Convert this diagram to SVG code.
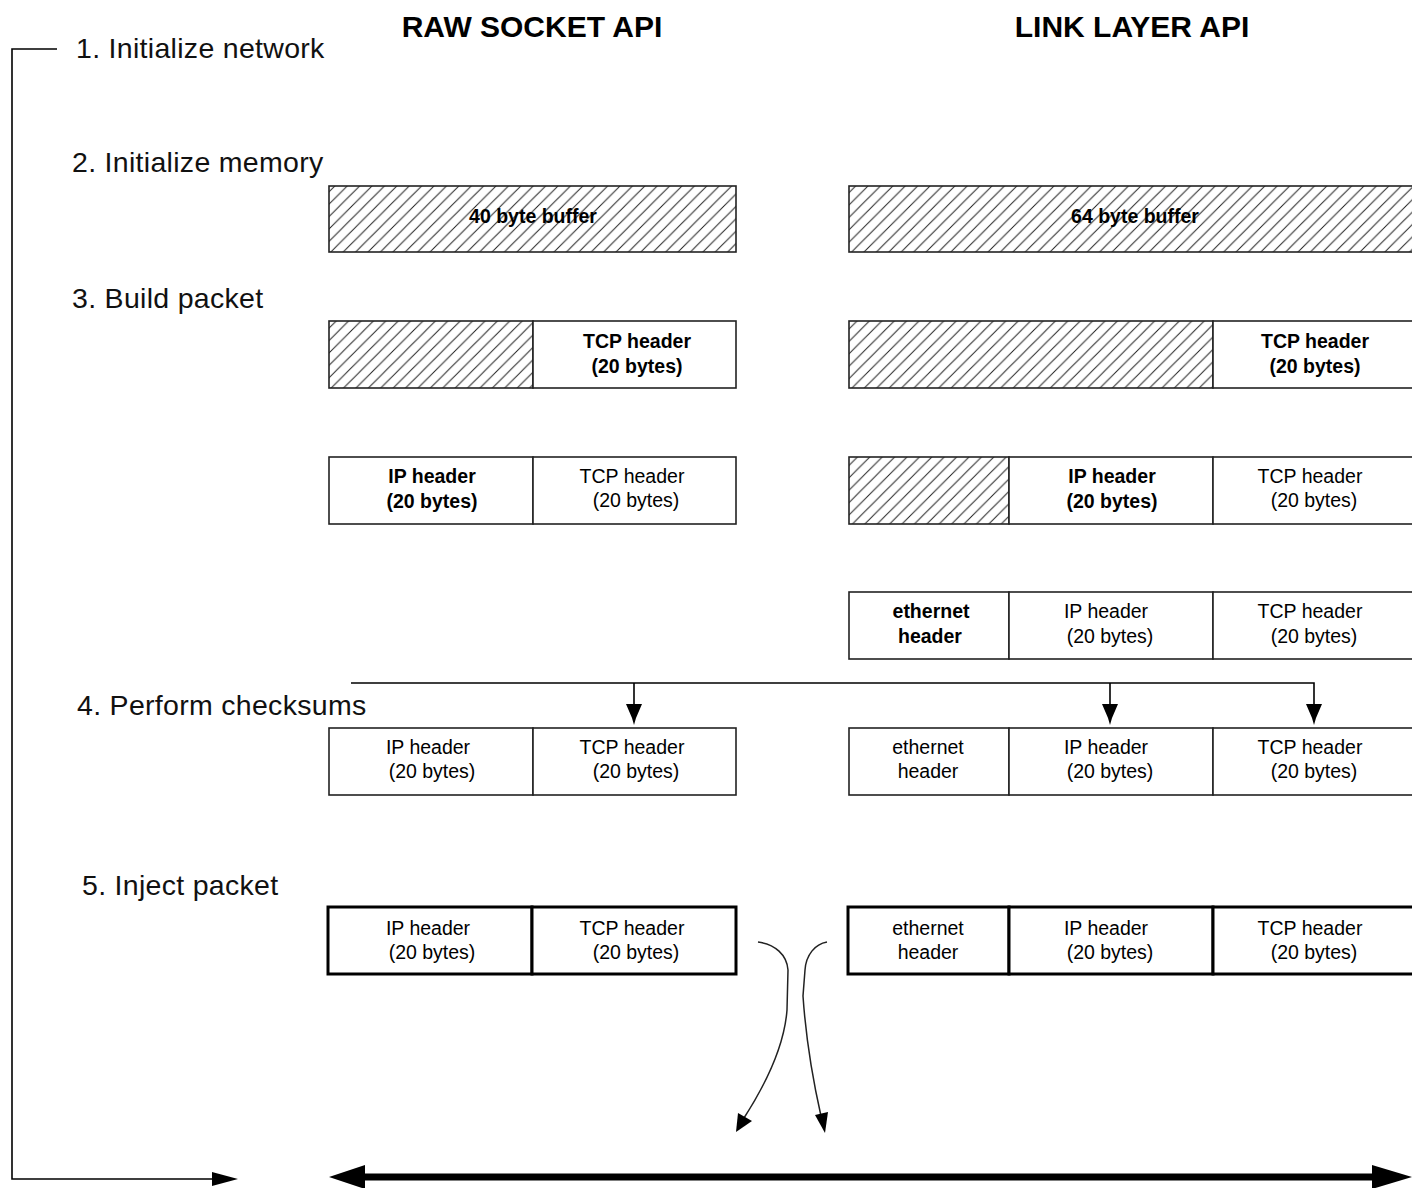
<svg xmlns="http://www.w3.org/2000/svg" width="1412" height="1188" viewBox="0 0 1412 1188">
  <style>
    .step { font-family: "Liberation Sans", Arial, sans-serif; font-size: 28.5px; letter-spacing: 0.3px; fill: #111; }
    .title { font-family: "Liberation Sans", Arial, sans-serif; font-size: 30px; font-weight: bold; fill: #000; text-anchor: middle; }
    .t { font-family: "Liberation Sans", Arial, sans-serif; font-size: 19.5px; fill: #000; text-anchor: middle; }
    .b { font-weight: bold; }
    .cell { fill: #fff; stroke: #222; stroke-width: 1.6; }
    .hcell { fill: url(#hatch); stroke: #222; stroke-width: 1.6; }
    .thick { fill: #fff; stroke: #000; stroke-width: 3; }
    .ln { fill: none; stroke: #000; stroke-width: 1.6; }
  </style>
  <defs>
    <pattern id="hatch" patternUnits="userSpaceOnUse" width="12.4" height="12.4">
      <rect width="12.4" height="12.4" fill="#fff"/>
      <path d="M-3,3 L3,-3 M0,12.4 L12.4,0 M9.4,15.4 L15.4,9.4" stroke="#222" stroke-width="1"/>
    </pattern>
  </defs>
  <rect width="1412" height="1188" fill="#fff"/>

  <!-- titles and step labels -->
  <g id="labels">
    <text class="title" x="532" y="37">RAW SOCKET API</text>
    <text class="title" x="1132" y="37">LINK LAYER API</text>
    <text class="step" x="76" y="58">1. Initialize network</text>
    <text class="step" x="72" y="172">2. Initialize memory</text>
    <text class="step" x="72" y="308">3. Build packet</text>
    <text class="step" x="77" y="715">4. Perform checksums</text>
    <text class="step" x="82" y="895">5. Inject packet</text>
  </g>

  <!-- step 2 -->
  <g id="raw-buffer">
    <rect class="hcell" x="329" y="186" width="407" height="66"/>
    <text class="t b" x="533" y="223">40 byte buffer</text>
  </g>
  <g id="link-buffer">
    <rect class="hcell" x="849" y="186" width="570" height="66"/>
    <text class="t b" x="1135" y="223">64 byte buffer</text>
  </g>

  <!-- step 3a -->
  <g id="raw-3a">
    <rect class="hcell" x="329" y="321" width="204" height="67"/>
    <rect class="cell" x="533" y="321" width="203" height="67"/>
    <text class="t b" x="637" y="348">TCP header</text>
    <text class="t b" x="637" y="373">(20 bytes)</text>
  </g>
  <g id="link-3a">
    <rect class="hcell" x="849" y="321" width="364" height="67"/>
    <rect class="cell" x="1213" y="321" width="210" height="67"/>
    <text class="t b" x="1315" y="348">TCP header</text>
    <text class="t b" x="1315" y="373">(20 bytes)</text>
  </g>

  <!-- step 3b -->
  <g id="raw-3b">
    <rect class="cell" x="329" y="457" width="204" height="67"/>
    <rect class="cell" x="533" y="457" width="203" height="67"/>
    <text class="t b" x="432" y="483">IP header</text>
    <text class="t b" x="432" y="508">(20 bytes)</text>
    <text class="t" x="632" y="483">TCP header</text>
    <text class="t" x="636" y="507">(20 bytes)</text>
  </g>
  <g id="link-3b">
    <rect class="hcell" x="849" y="457" width="160" height="67"/>
    <rect class="cell" x="1009" y="457" width="204" height="67"/>
    <rect class="cell" x="1213" y="457" width="210" height="67"/>
    <text class="t b" x="1112" y="483">IP header</text>
    <text class="t b" x="1112" y="508">(20 bytes)</text>
    <text class="t" x="1310" y="483">TCP header</text>
    <text class="t" x="1314" y="507">(20 bytes)</text>
  </g>

  <!-- step 3c -->
  <g id="link-3c">
    <rect class="cell" x="849" y="592" width="160" height="67"/>
    <rect class="cell" x="1009" y="592" width="204" height="67"/>
    <rect class="cell" x="1213" y="592" width="210" height="67"/>
    <text class="t b" x="931" y="618">ethernet</text>
    <text class="t b" x="930" y="643">header</text>
    <text class="t" x="1106" y="618">IP header</text>
    <text class="t" x="1110" y="643">(20 bytes)</text>
    <text class="t" x="1310" y="618">TCP header</text>
    <text class="t" x="1314" y="643">(20 bytes)</text>
  </g>

  <!-- step 4 -->
  <g id="raw-4">
    <rect class="cell" x="329" y="728" width="204" height="67"/>
    <rect class="cell" x="533" y="728" width="203" height="67"/>
    <text class="t" x="428" y="754">IP header</text>
    <text class="t" x="432" y="778">(20 bytes)</text>
    <text class="t" x="632" y="754">TCP header</text>
    <text class="t" x="636" y="778">(20 bytes)</text>
  </g>
  <g id="link-4">
    <rect class="cell" x="849" y="728" width="160" height="67"/>
    <rect class="cell" x="1009" y="728" width="204" height="67"/>
    <rect class="cell" x="1213" y="728" width="210" height="67"/>
    <text class="t" x="928" y="754">ethernet</text>
    <text class="t" x="928" y="778">header</text>
    <text class="t" x="1106" y="754">IP header</text>
    <text class="t" x="1110" y="778">(20 bytes)</text>
    <text class="t" x="1310" y="754">TCP header</text>
    <text class="t" x="1314" y="778">(20 bytes)</text>
  </g>

  <!-- step 5 -->
  <g id="raw-5">
    <rect class="thick" x="328" y="907" width="204" height="67"/>
    <rect class="thick" x="532" y="907" width="204" height="67"/>
    <text class="t" x="428" y="935">IP header</text>
    <text class="t" x="432" y="959">(20 bytes)</text>
    <text class="t" x="632" y="935">TCP header</text>
    <text class="t" x="636" y="959">(20 bytes)</text>
  </g>
  <g id="link-5">
    <rect class="thick" x="848" y="907" width="161" height="67"/>
    <rect class="thick" x="1009" y="907" width="204" height="67"/>
    <rect class="thick" x="1213" y="907" width="210" height="67"/>
    <text class="t" x="928" y="935">ethernet</text>
    <text class="t" x="928" y="959">header</text>
    <text class="t" x="1106" y="935">IP header</text>
    <text class="t" x="1110" y="959">(20 bytes)</text>
    <text class="t" x="1310" y="935">TCP header</text>
    <text class="t" x="1314" y="959">(20 bytes)</text>
  </g>

  <!-- connectors -->
  <g id="connectors">
    <!-- loop bracket -->
    <path class="ln" d="M57,49 H12 V1179 H216"/>
    <polygon points="212,1172 238,1179 212,1186" fill="#000"/>
    <!-- checksum arrows -->
    <path class="ln" d="M351,683 H1314 V706 M634,683 V706 M1110,683 V706"/>
    <polygon points="626,704 642,704 636,718 634,725 632,718" fill="#000"/>
    <polygon points="1102,704 1118,704 1112,718 1110,725 1108,718" fill="#000"/>
    <polygon points="1306,704 1322,704 1316,718 1314,725 1312,718" fill="#000"/>
    <!-- inject curves -->
    <path fill="none" stroke="#222" stroke-width="1.5" d="M758,942 C775,944 787,955 788,970 L787,1010 C784,1050 762,1090 744,1118"/>
    <polygon points="736,1132 738,1113 752,1121" fill="#000"/>
    <path fill="none" stroke="#222" stroke-width="1.5" d="M827,942 C815,944 806,955 805,970 L803,996 C806,1040 814,1085 821,1116"/>
    <polygon points="825,1133 815,1115 828,1112" fill="#000"/>
    <!-- network wire -->
    <line x1="355" y1="1177" x2="1385" y2="1177" stroke="#000" stroke-width="7"/>
    <polygon points="329,1177 365,1165 365,1189" fill="#000"/>
    <polygon points="1412,1177 1372,1165 1372,1189" fill="#000"/>
  </g>
</svg>
